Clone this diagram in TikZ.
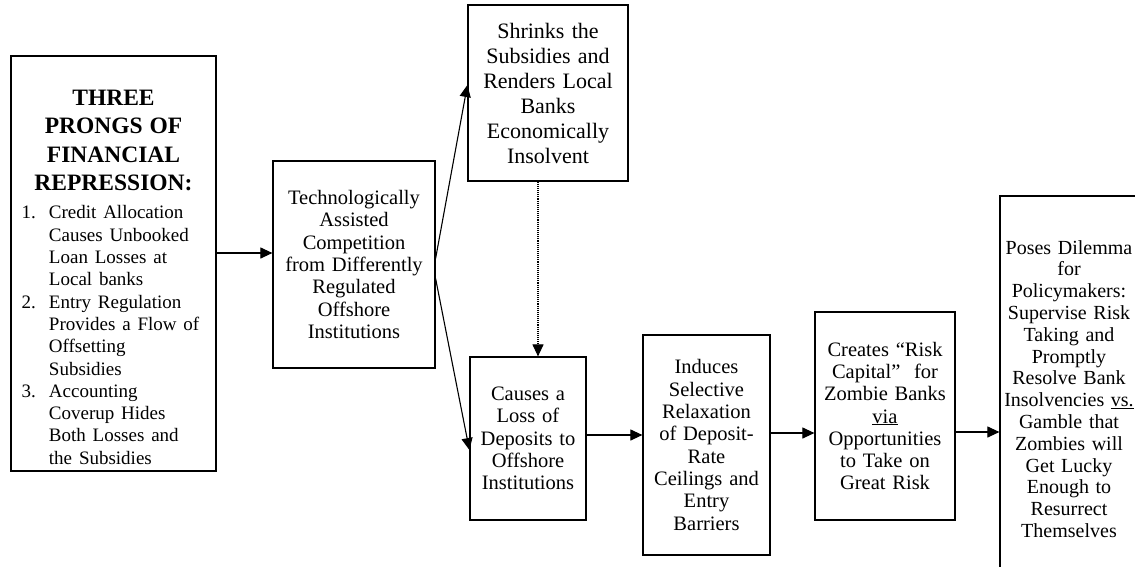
\documentclass[tikz,border=0pt]{standalone}
\usepackage{fontspec}
\setmainfont{Liberation Serif}
\usetikzlibrary{arrows.meta}

\tikzset{
  box/.style={draw, line width=1.2pt, align=center, inner sep=0pt,
    font=\fontsize{20.5}{22.3}\selectfont},
  arr/.style={line width=1.1pt, -{Triangle[length=12pt,width=11pt]}},
}

\begin{document}
\begin{tikzpicture}[x=1pt,y=-1pt]
  \useasboundingbox (0,0) rectangle (1135,566);
  \fill[white] (0,0) rectangle (1135,566);
  \clip (0,0) rectangle (1135,566);
  % boxes
  \node[box, minimum width=205pt, minimum height=415pt, text width=195pt] (prongs) at (113.5,263.5)
    {{\rule{0pt}{49pt}\fontsize{23.5}{28.5}\bfseries\selectfont THREE\\PRONGS OF\\FINANCIAL\\REPRESSION:\par}\vspace{6pt}
     {\fontsize{19}{22.3}\selectfont\hspace*{-6pt}%
     \begin{tabular}[t]{@{}r@{\hspace{13pt}}l@{}}
       1.&Credit Allocation\\ &Causes Unbooked\\ &Loan Losses at\\ &Local banks\\
       2.&Entry Regulation\\ &Provides a Flow of\\ &Offsetting\\ &Subsidies\\
       3.&Accounting\\ &Coverup Hides\\ &Both Losses and\\ &the Subsidies
     \end{tabular}\par}};
  \node[box, minimum width=162pt, minimum height=207pt, text width=156pt] (tech) at (354,264.5)
    {Technologically\\Assisted\\Competition\\from Differently\\Regulated\\Offshore\\Institutions};
  \node[box, minimum width=160pt, minimum height=176pt, text width=154pt,
    font=\fontsize{22}{25}\selectfont] (shrinks) at (548,93)
    {Shrinks the\\Subsidies and\\Renders Local\\Banks\\Economically\\Insolvent};
  \node[box, minimum width=116pt, minimum height=163pt, text width=112pt] (loss) at (528,438.5)
    {Causes a\\Loss of\\Deposits to\\Offshore\\Institutions};
  \node[box, minimum width=127pt, minimum height=220pt, text width=123pt] (relax) at (706.5,445)
    {Induces\\Selective\\Relaxation\\of Deposit-\\Rate\\Ceilings and\\Entry\\Barriers};
  \node[box, minimum width=140pt, minimum height=208pt, text width=136pt] (riskcap) at (885,416)
    {Creates “Risk\\Capital”\ \ for\\Zombie Banks\\\underline{via}\\Opportunities\\to Take on\\Great Risk};
  \node[box, minimum width=138pt, minimum height=386pt, text width=134pt,
    font=\fontsize{20}{21.8}\selectfont] (dilemma) at (1069,389)
    {Poses Dilemma\\for\\Policymakers:\\Supervise Risk\\Taking and\\Promptly\\Resolve Bank\\Insolvencies \underline{vs.}\\Gamble that\\Zombies will\\Get Lucky\\Enough to\\Resurrect\\Themselves};
  % connectors
  \draw[arr] ([yshift=10.5pt]prongs.east) -- ([yshift=10.5pt]prongs.east -| tech.west);
  \draw[arr] ([yshift=6pt]tech.east) -- ([yshift=8pt]shrinks.west);
  \draw[arr] ([yshift=-14pt]tech.east) -- ([yshift=-11.5pt]loss.west);
  \draw[arr, densely dotted] ([xshift=-10pt]shrinks.south) -- ([xshift=-10pt]shrinks.south |- loss.north);
  \draw[arr] ([yshift=3.5pt]loss.east) -- ([yshift=3.5pt]loss.east -| relax.west);
  \draw[arr] ([yshift=12pt]relax.east) -- ([yshift=12pt]relax.east -| riskcap.west);
  \draw[arr] ([yshift=-16pt]riskcap.east) -- ([yshift=-16pt]riskcap.east -| dilemma.west);
\end{tikzpicture}
\end{document}
